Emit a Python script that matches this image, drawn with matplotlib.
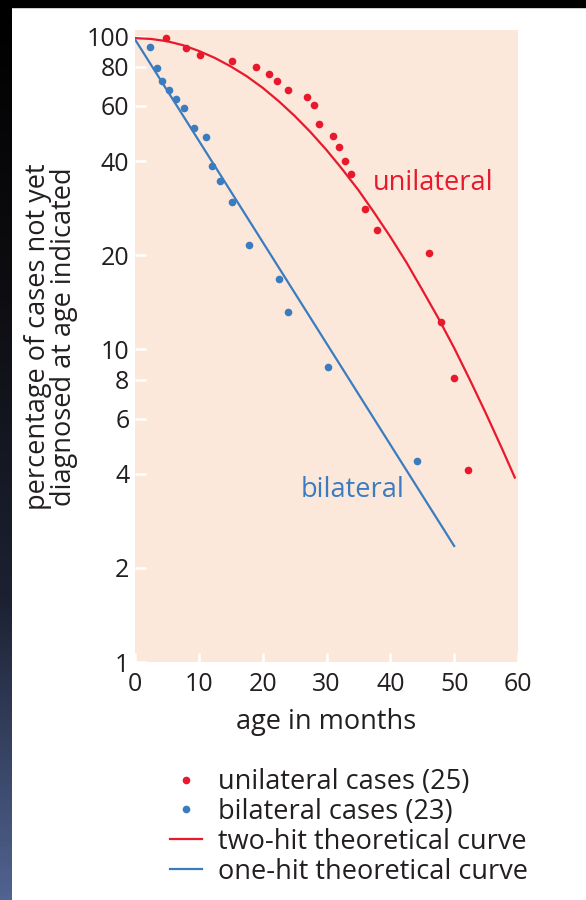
import numpy as np
import matplotlib
matplotlib.use('Agg')
import matplotlib.pyplot as plt
from matplotlib.patches import Rectangle
from matplotlib.ticker import NullLocator

plt.rcParams['font.family'] = ['Open Sans', 'DejaVu Sans']

# age at diagnosis (months) and % of cases still undiagnosed
uni_age = [4.9, 8.0, 10.2, 15.2, 19.0, 21.0, 22.2, 23.9, 26.9, 28.1, 28.9,
           31.0, 32.0, 32.9, 33.8, 36.0, 37.9, 46.0, 48.0, 49.9, 52.1]
uni_pct = [98.8, 91.9, 87.5, 83.3, 79.7, 76.1, 72.0, 67.7, 64.1, 60.3, 52.7,
           48.1, 44.3, 40.1, 36.4, 28.2, 24.0, 20.3, 12.2, 8.1, 4.1]

bi_age = [2.4, 3.4, 4.2, 5.4, 6.5, 7.6, 9.3, 11.1, 12.0, 13.3, 15.2, 17.9,
          22.5, 24.0, 30.3, 44.2]
bi_pct = [92.9, 79.4, 72.0, 67.7, 63.0, 59.3, 51.2, 47.6, 38.6, 34.6, 29.5,
          21.5, 16.8, 13.2, 8.8, 4.4]

# theoretical curves
two_hit_age = [0, 2.5, 5, 7.5, 10, 12.5, 15, 17.5, 20, 22.5, 25, 27.5, 30,
               32.5, 35, 37.5, 40, 42.5, 45, 47.5, 50, 52.5, 55, 57.5, 59.5]
two_hit_pct = [98.9, 98.3, 96.7, 93.9, 90.0, 85.5, 80.3, 74.7, 68.6, 62.2,
               55.8, 49.5, 43.4, 37.6, 32.3, 27.3, 22.9, 19.0, 15.5, 12.6,
               10.1, 7.96, 6.22, 4.81, 3.89]

one_hit_age = [0, 50]
one_hit_pct = [98, 2.35]

x_ticks = [0, 10, 20, 30, 40, 50, 60]
y_ticks = [1, 2, 4, 6, 8, 10, 20, 40, 60, 80, 100]

legend_labels = ['unilateral cases (25)', 'bilateral cases (23)',
                 'two-hit theoretical curve', 'one-hit theoretical curve']

RED = '#E8192C'
BLUE = '#3A7CBF'
TXT = '#231F20'
FS_TICK = 18
FS = 19.5

W, H = 586, 900
fig = plt.figure(figsize=(W / 100, H / 100), dpi=100)
fig.patch.set_facecolor('white')

# dark gradient strip down the left edge, black band along the top
strip = fig.add_axes([0, 0, 12 / W, 1])
stops = np.array([[0, 0, 0], [14, 14, 18], [28, 33, 50], [80, 100, 145]]) / 255
t = np.linspace(0, 1, 200)
grad = np.stack([np.interp(t, np.linspace(0, 1, 4), stops[:, c]) for c in range(3)], axis=-1)
strip.imshow(grad[:, None, :], aspect='auto', extent=[0, 1, 0, 1], origin='upper')
strip.axis('off')
fig.add_artist(Rectangle((0, 1 - 7 / H), 1, 7 / H, transform=fig.transFigure,
                         color='black', zorder=10))

ax = fig.add_axes([135 / W, 1 - 662 / H, 383 / W, 632 / H])
ax.set_facecolor('#FBE8DA')
ax.set_yscale('log')
ax.set_xlim(0, 60)
ax.set_ylim(1, 105)

h_two, = ax.plot(two_hit_age, two_hit_pct, color=RED, lw=1.6)
h_one, = ax.plot(one_hit_age, one_hit_pct, color=BLUE, lw=1.6)
h_uni, = ax.plot(uni_age, uni_pct, ls='none', marker='o', ms=5.5, mew=0, color=RED)
h_bi, = ax.plot(bi_age, bi_pct, ls='none', marker='o', ms=5.5, mew=0, color=BLUE)

for s in ax.spines.values():
    s.set_visible(False)

ax.set_xticks(x_ticks)
ax.set_xticklabels([str(v) for v in x_ticks])
ax.set_yticks(y_ticks)
ax.set_yticklabels([str(v) for v in y_ticks])
ax.yaxis.set_minor_locator(NullLocator())
ax.tick_params(direction='in', color='white', width=1.8, labelsize=FS_TICK, labelcolor=TXT)
ax.tick_params(axis='y', length=8, pad=4)
ax.tick_params(axis='x', length=6.5, pad=7)

ax.text(37.3, 34.0, 'unilateral', color=RED, fontsize=FS, va='center', ha='left')
ax.text(25.9, 3.55, 'bilateral', color=BLUE, fontsize=FS, va='center', ha='left')

ax.set_xlabel('age in months', fontsize=FS, color=TXT, labelpad=8)
fig.text(51 / W, 1 - 337 / H, 'percentage of cases not yet\ndiagnosed at age indicated',
         rotation=90, ha='center', va='center', multialignment='center',
         fontsize=FS, color=TXT, linespacing=0.95)

ax.legend(handles=[h_uni, h_bi, h_two, h_one], labels=legend_labels,
          loc='upper left', bbox_to_anchor=(170 / W, 1 - 768 / H),
          bbox_transform=fig.transFigure, frameon=False, fontsize=FS,
          handlelength=1.17, handletextpad=0.6, labelspacing=0.07,
          borderpad=0, borderaxespad=0, numpoints=1, labelcolor=TXT)

fig.savefig('out.png', dpi=100, facecolor=fig.get_facecolor())
